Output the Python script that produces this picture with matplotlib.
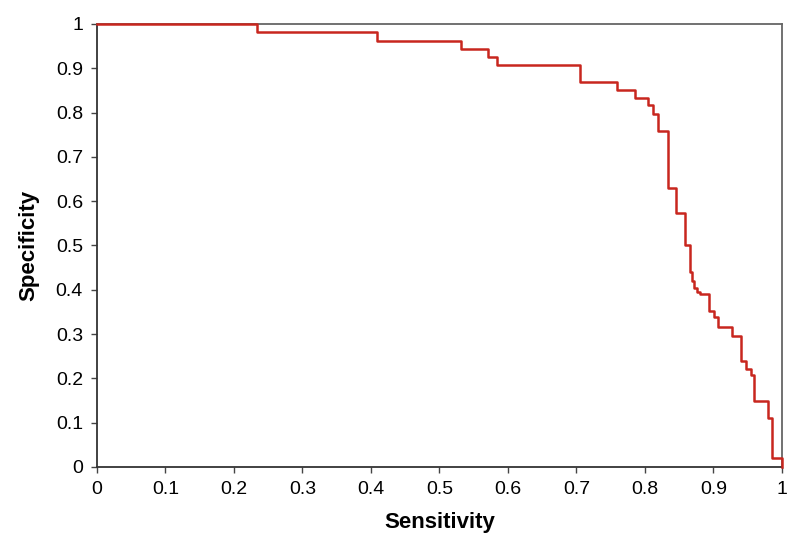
import matplotlib
matplotlib.use("Agg")
import matplotlib.pyplot as plt

# step curve (sensitivity, specificity)
sensitivity = [0.0, 0.234, 0.409, 0.531, 0.571, 0.584, 0.705, 0.759, 0.785,
               0.805, 0.812, 0.819, 0.833, 0.845, 0.859, 0.866, 0.869, 0.872,
               0.876, 0.880, 0.893, 0.901, 0.906, 0.927, 0.940, 0.947, 0.955,
               0.959, 0.980, 0.986, 1.0]
specificity = [1.0, 0.981, 0.962, 0.943, 0.926, 0.907, 0.870, 0.851, 0.832,
               0.816, 0.796, 0.758, 0.629, 0.574, 0.500, 0.440, 0.420, 0.405,
               0.395, 0.391, 0.352, 0.339, 0.315, 0.296, 0.240, 0.221, 0.208,
               0.150, 0.110, 0.020, 0.0]

ticks = [0, 0.1, 0.2, 0.3, 0.4, 0.5, 0.6, 0.7, 0.8, 0.9, 1]
tick_labels = ["0", "0.1", "0.2", "0.3", "0.4", "0.5", "0.6", "0.7", "0.8", "0.9", "1"]

plt.rcParams["font.family"] = ["Liberation Sans", "DejaVu Sans"]

fig = plt.figure(figsize=(8, 5.57), dpi=100)
ax = fig.add_axes([0.121, 0.1616, 0.8565, 0.7954])

ax.step(sensitivity, specificity, where="post", color="#c8261e",
        linewidth=1.8, clip_on=False, zorder=3)

ax.set_xlim(0, 1)
ax.set_ylim(0, 1)
ax.set_xticks(ticks)
ax.set_xticklabels(tick_labels)
ax.set_yticks(ticks)
ax.set_yticklabels(tick_labels)
ax.tick_params(axis="both", labelsize=14, length=4, width=1, color="#444444", pad=6)

for side in ["left", "bottom"]:
    ax.spines[side].set_color("#333333")
    ax.spines[side].set_linewidth(1.3)
for side in ["top", "right"]:
    ax.spines[side].set_color("#666666")
    ax.spines[side].set_linewidth(1.3)

ax.set_xlabel("Sensitivity", fontsize=16, fontweight="bold", labelpad=10)
ax.set_ylabel("Specificity", fontsize=16, fontweight="bold", labelpad=12)

fig.savefig("out.png", dpi=100)
